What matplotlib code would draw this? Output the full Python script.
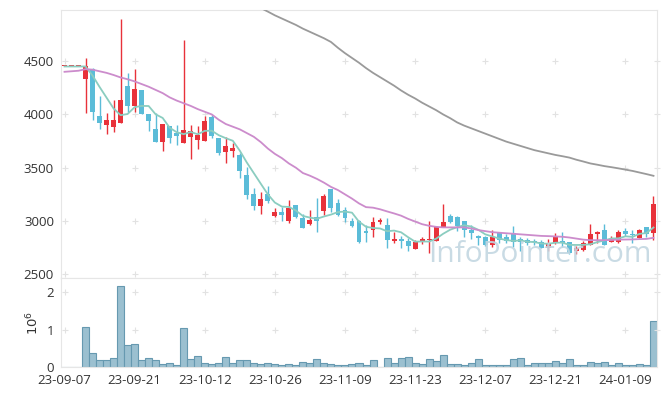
import matplotlib
matplotlib.use('Agg')
from matplotlib import pyplot as plt
import numpy as np

# daily candles, 23-09-07 .. 24-01-15 (trading days)
tick_pos = [0, 10, 20, 30, 40, 50, 60, 70, 80]
tick_labels = ['23-09-07', '23-09-21', '23-10-12', '23-10-26', '23-11-09',
               '23-11-23', '23-12-07', '23-12-21', '24-01-09']

opens = [4450, 4450, 4450, 4330, 4430, 3985, 3900, 3885, 3915, 4265,
         4080, 4230, 4000, 3860, 3745, 3890, 3830, 3730, 3790, 3760,
         3755, 3980, 3780, 3650, 3660, 3620, 3430, 3255, 3140, 3255,
         3050, 3085, 3000, 3150, 3025, 2970, 3035, 3095, 3300, 3165,
         3100, 3000, 3000, 2905, 2915, 2995, 2960, 2810, 2835, 2810,
         2740, 2800, 2820, 2815, 2945, 3050, 3040, 3000, 2915, 2860,
         2850, 2775, 2885, 2850, 2890, 2830, 2820, 2815, 2805, 2750,
         2790, 2810, 2800, 2720, 2725, 2775, 2875, 2915, 2805, 2805,
         2905, 2880, 2845, 2940, 2885]
highs = [4450, 4450, 4450, 4530, 4440, 4170, 4015, 4140, 4900, 4385,
         4430, 4230, 4000, 4010, 3910, 3890, 3905, 4700, 3900, 3890,
         3985, 3995, 3780, 3785, 3730, 3640, 3510, 3310, 3270, 3330,
         3120, 3135, 3195, 3150, 3065, 3100, 3220, 3255, 3300, 3205,
         3135, 3030, 3010, 2960, 3040, 3030, 3025, 2900, 2860, 2845,
         2820, 2850, 3000, 2950, 3160, 3065, 3045, 3000, 2960, 2870,
         2855, 2915, 2890, 2880, 2950, 2850, 2840, 2830, 2820, 2835,
         2885, 2895, 2800, 2765, 2815, 2975, 2910, 2975, 2860, 2915,
         2935, 2915, 2925, 2945, 3235]
lows = [4450, 4450, 4450, 4010, 3945, 3860, 3815, 3835, 3915, 4025,
        4025, 4000, 3845, 3740, 3655, 3730, 3715, 3730, 3580, 3680,
        3755, 3780, 3615, 3540, 3605, 3400, 3210, 3100, 3070, 3165,
        3040, 3000, 2980, 3030, 2935, 2965, 2900, 3055, 3085, 3050,
        2995, 2945, 2795, 2805, 2850, 2970, 2745, 2790, 2750, 2720,
        2735, 2780, 2700, 2810, 2940, 2985, 2910, 2850, 2835, 2775,
        2765, 2760, 2790, 2790, 2760, 2720, 2770, 2770, 2745, 2715,
        2780, 2760, 2690, 2690, 2720, 2770, 2795, 2775, 2800, 2795,
        2860, 2790, 2840, 2850, 2820]
closes = [4450, 4450, 4450, 4450, 4025, 3915, 3945, 3945, 4135, 4080,
          4235, 4005, 3940, 3745, 3910, 3775, 3795, 3850, 3845, 3805,
          3935, 3800, 3640, 3705, 3685, 3470, 3245, 3140, 3205, 3190,
          3085, 3055, 3125, 3035, 2935, 3010, 3000, 3230, 3125, 3055,
          3030, 2950, 2805, 2890, 2995, 3010, 2820, 2835, 2810, 2765,
          2800, 2830, 2830, 2945, 2995, 2990, 2950, 2920, 2885, 2845,
          2775, 2850, 2820, 2815, 2805, 2800, 2790, 2800, 2750, 2790,
          2850, 2795, 2695, 2745, 2795, 2880, 2895, 2775, 2835, 2900,
          2875, 2870, 2915, 2875, 3160]
# volume in millions of shares
volumes = [0, 0, 0, 1.07, 0.37, 0.19, 0.19, 0.24, 2.16, 0.59,
           0.61, 0.19, 0.24, 0.19, 0.09, 0.11, 0.05, 1.04, 0.21, 0.29,
           0.11, 0.08, 0.11, 0.27, 0.12, 0.19, 0.19, 0.12, 0.09, 0.12,
           0.08, 0.06, 0.09, 0.05, 0.13, 0.12, 0.21, 0.12, 0.08, 0.05,
           0.05, 0.09, 0.12, 0.05, 0.19, 0.02, 0.24, 0.12, 0.24, 0.27,
           0.12, 0.09, 0.21, 0.16, 0.32, 0.09, 0.09, 0.05, 0.12, 0.21,
           0.05, 0.05, 0.05, 0.05, 0.21, 0.24, 0.05, 0.12, 0.12, 0.12,
           0.16, 0.12, 0.21, 0.05, 0.05, 0.13, 0.12, 0.13, 0.05, 0.12,
           0.05, 0.05, 0.09, 0.05, 1.23]

ma5 = [4450, 4450, 4450, 4450, 4365, 4258, 4157, 4056, 3993, 4004,
       4068, 4080, 4079, 4001, 3967, 3875, 3833, 3815, 3835, 3814,
       3846, 3847, 3805, 3777, 3753, 3660, 3549, 3449, 3349, 3250,
       3173, 3135, 3132, 3098, 3047, 3032, 3021, 3042, 3060, 3084,
       3088, 3078, 2993, 2946, 2934, 2930, 2904, 2910, 2894, 2848,
       2806, 2808, 2807, 2834, 2880, 2918, 2942, 2960, 2948, 2918,
       2875, 2855, 2835, 2821, 2813, 2818, 2806, 2802, 2789, 2786,
       2796, 2797, 2776, 2775, 2776, 2782, 2802, 2818, 2836, 2837,
       2856, 2851, 2879, 2887, 2939]
ma20 = [4400, 4405, 4410, 4425, 4420, 4405, 4390, 4370, 4347, 4330,
        4310, 4285, 4260, 4230, 4200, 4160, 4130, 4105, 4080, 4050,
        4025, 4000, 3950, 3910, 3885, 3860, 3825, 3790, 3740, 3680,
        3630, 3590, 3540, 3500, 3450, 3425, 3395, 3360, 3320, 3290,
        3250, 3210, 3165, 3130, 3125, 3110, 3090, 3071, 3050, 3020,
        2995, 2970, 2955, 2945, 2940, 2940, 2940, 2940, 2930, 2915,
        2905, 2895, 2890, 2885, 2880, 2875, 2870, 2865, 2860, 2858,
        2855, 2852, 2845, 2835, 2825, 2820, 2820, 2820, 2822, 2825,
        2826, 2827, 2830, 2832, 2842]
ma60_start = 27
ma60 = [5030, 4998, 4965, 4930, 4900, 4870, 4840, 4805, 4775, 4745,
        4715, 4680, 4625, 4575, 4530, 4485, 4435, 4390, 4350, 4310,
        4270, 4225, 4185, 4150, 4110, 4075, 4040, 4000, 3965, 3925,
        3895, 3870, 3845, 3820, 3795, 3770, 3745, 3725, 3705, 3685,
        3665, 3650, 3635, 3620, 3608, 3595, 3575, 3558, 3540, 3528,
        3515, 3505, 3494, 3482, 3470, 3455, 3440, 3424]

up_c = '#e8323a'
down_c = '#5bbcd8'
grid_c = '#e6e6e6'
txt_c = '#333333'

plt.rcParams['font.family'] = ['Open Sans', 'DejaVu Sans']

fig = plt.figure(figsize=(6.65, 3.96), dpi=100)
W, H = 665.0, 396.0
ax = fig.add_axes([61 / W, 1 - 278 / H, 596 / W, 268 / H])
axv = fig.add_axes([61 / W, 1 - 367.3 / H, 596 / W, 89.3 / H], sharex=ax)

x = np.arange(len(closes))
o = np.array(opens)
c = np.array(closes)
up = c >= o
cols = np.where(up, up_c, down_c)
bottom = np.minimum(o, c)
height = np.maximum(np.abs(c - o), 10)

ax.vlines(x, lows, highs, colors=cols, linewidth=1.0, zorder=3)
ax.bar(x, height, 0.7, bottom=bottom, color=cols, linewidth=0, zorder=4)

ax.plot(x, ma5, color='#8bcdc0', lw=1.3, zorder=5)
ax.plot(x, ma20, color='#cc8ccc', lw=1.3, zorder=5)
ax.plot(np.arange(ma60_start, ma60_start + len(ma60)), ma60, color='#9a9a9a', lw=1.3, zorder=5)

axv.bar(x, np.array(volumes) * 1e6, 1.0, color='#9bc0d0', edgecolor='#6699b0', linewidth=0.8)

ax.set_xlim(-0.5, 84.5)
ax.set_ylim(2465, 4980)
axv.set_ylim(0, 2.38e6)

yt = [2500, 3000, 3500, 4000, 4500]
ax.set_yticks(yt)
ax.set_yticklabels([str(v) for v in yt])
vt = [0, 1e6, 2e6]
axv.set_yticks(vt)
axv.set_yticklabels(['0', '1', '2'])
axv.set_xticks(tick_pos)
axv.set_xticklabels(tick_labels)
ax.tick_params(axis='x', labelbottom=False, length=0)
ax.tick_params(axis='y', length=0, pad=5, labelsize=9.5, labelcolor=txt_c)
axv.tick_params(axis='y', length=0, pad=5, labelsize=9.5, labelcolor=txt_c)
axv.tick_params(axis='x', length=0, pad=5, labelsize=9.5, labelcolor=txt_c)
axv.set_ylabel(r'$10^6$', color=txt_c, fontsize=9.5, labelpad=4)

# '+' marks at tick crossings instead of grid lines
gx = tick_pos + [84.5]
for a, ys in ((ax, yt), (axv, vt[1:])):
    for s in a.spines.values():
        s.set_color(grid_c)
    gxx, gyy = np.meshgrid(gx, ys)
    a.scatter(gxx.ravel(), gyy.ravel(), marker='+', s=14, color='#e2e2e2',
              linewidths=0.8, zorder=1, clip_on=False)

fig.text(540 / W, 1 - 254 / H, 'InfoPointer.com', ha='center', va='center',
         fontsize=21.5, color='#c3d7e2', alpha=0.9, zorder=10)

fig.savefig('out.png', dpi=100)
